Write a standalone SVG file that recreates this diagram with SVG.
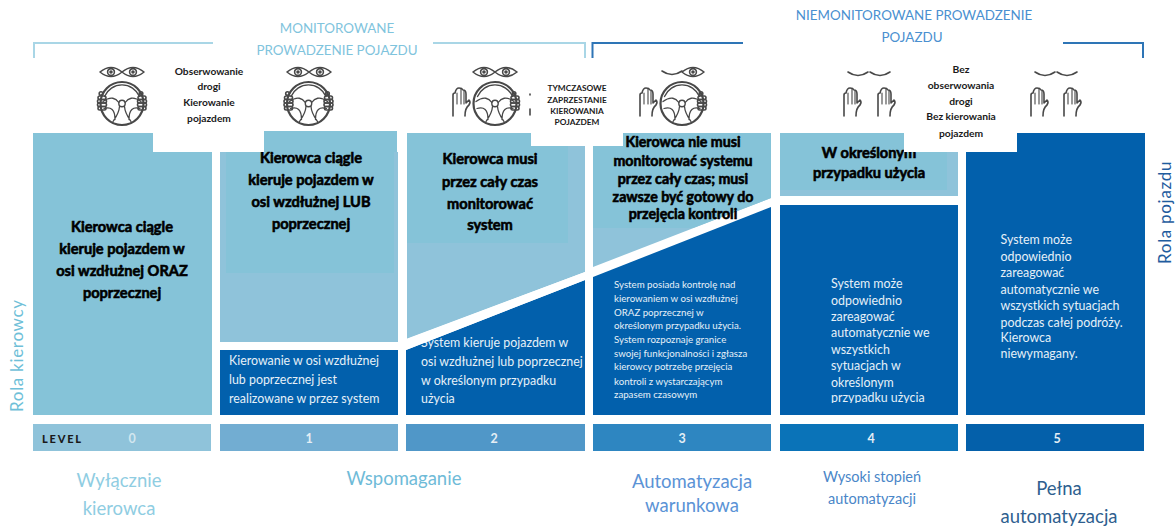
<svg xmlns="http://www.w3.org/2000/svg" xmlns:xlink="http://www.w3.org/1999/xlink" width="1175" height="527" viewBox="0 0 1175 527">
<style>
text{font-family:Lato,"Open Sans","Liberation Sans",sans-serif}
.m{text-anchor:middle}
.hd{font-size:13.400px}
.b{font-weight:700;font-size:14.600px;fill:#000;stroke:#000;stroke-width:.6px;text-anchor:middle}
.s{font-weight:700;fill:#1a1a1a;text-anchor:middle}
.w{fill:#e6f0f8;font-size:12.400px}
.w3{fill:#e6f0f8;font-size:9.700px}
.n{font-weight:700;font-size:12.500px;fill:#e4eef5;text-anchor:middle}
.lb{font-size:18.500px;text-anchor:middle}
.ic{fill:none;stroke:#484848;stroke-width:1.600;stroke-linecap:round;stroke-linejoin:round}
.br{fill:none;stroke-width:2}
.lt{fill:#8fc3da}.dk{fill:#85c3d8}.bl{fill:#0260ac}
</style>
<defs>
<g id="wheel" class="ic">
<circle r="21.500" stroke-width="2.200"/>
<path d="M-17.500,-7A19 19 0 0 1 17.500,-7" stroke-width="1.400"/>
<path d="M-19,-2C-11,-8 -6,-5 -3.200,-1M19,-2C11,-8 6,-5 3.200,-1M-2.500,3C-3,10 -7,15 -9,18M2.500,3C3,10 7,15 9,18M-18,5C-11,3 -7,6 -7,16M18,5C11,3 7,6 7,16" stroke-width="1.300"/>
<circle r="3.200" stroke-width="1.400"/>
</g>
<g id="grip" class="ic" stroke-width="1.300"><rect x="-4" y="-7" width="8" height="3.500" rx="1.700"/><rect x="-4.500" y="-3.500" width="9" height="3.500" rx="1.700"/><rect x="-4.500" y="0" width="9" height="3.500" rx="1.700"/><rect x="-4" y="3.500" width="8" height="3.500" rx="1.700"/><circle cx="-1" cy="-9.500" r="1.800"/></g>
<g id="eye" class="ic" stroke-width="1.700"><path d="M-11,0Q0,-9 11,0Q0,9 -11,0Z"/><circle r="3.400"/><circle r="1" fill="#484848"/></g>
<path id="closed" class="ic" stroke-width="1.800" d="M-10,-2Q0,5 10,-2"/>
<g id="hand" class="ic" stroke-width="1.500"><path d="M-8,14V-7Q-8,-9 -6,-9Q-5,-14 -2,-14Q1,-14 2,-12Q5,-12 5,-8V1L8,-2Q10,0 8,3Q4,6 4,14"/><path d="M-4,-9V2M0,-13V2M3,-11V2" stroke-width="1.100"/></g>
</defs>

<g id="brackets">
<path class="br" stroke="#a9d6e6" d="M34,58V43H213M433,43H585V58"/>
<path class="br" stroke="#2e75b6" d="M592.500,58V43H743M1063,43H1143V58"/>
</g>
<g id="header-monitored"><text class="m hd" fill="#7fc4dd" x="337" y="33">MONITOROWANE</text><text class="m hd" fill="#7fc4dd" x="337" y="55">PROWADZENIE POJAZDU</text></g>
<g id="header-unmonitored"><text class="m hd" fill="#4a90d0" x="914" y="20">NIEMONITOROWANE PROWADZENIE</text><text class="m hd" fill="#4a90d0" x="912" y="42">POJAZDU</text></g>

<g id="icon-0"><use href="#eye" x="111" y="72"/><use href="#eye" x="133" y="72"/><use href="#wheel" x="122" y="103.500"/><use href="#grip" x="102" y="103"/><use href="#grip" x="142" y="103"/></g>
<g id="icon-1"><use href="#eye" x="298" y="72"/><use href="#eye" x="320" y="72"/><use href="#wheel" x="308.500" y="103.500"/><use href="#grip" x="288.500" y="103"/><use href="#grip" x="328.500" y="103"/></g>
<g id="icon-2"><use href="#eye" x="484" y="72"/><use href="#eye" x="506" y="72"/><use href="#hand" x="461" y="102"/><use href="#wheel" x="495" y="103.500"/><use href="#grip" x="515" y="103"/><path class="ic" d="M530,94v1M530,109v6" stroke-width="1"/></g>
<g id="icon-3"><use href="#closed" x="672" y="73"/><use href="#eye" x="693" y="72"/><use href="#hand" x="648" y="102"/><use href="#wheel" x="682" y="103.500"/><use href="#grip" x="702" y="103"/></g>
<g id="icon-4"><use href="#closed" x="858" y="74"/><use href="#closed" x="880" y="74"/><use href="#hand" x="852" y="102"/><use href="#hand" x="886" y="102"/></g>
<g id="icon-5"><use href="#closed" x="1045" y="74"/><use href="#closed" x="1067" y="74"/><use href="#hand" x="1039" y="102"/><use href="#hand" x="1072" y="102"/></g>

<g id="column-0"><rect class="dk" x="33" y="133" width="179" height="282"/>
<text class="b" x="122"><tspan x="122" y="232">Kierowca ciągle</tspan><tspan x="122" y="254">kieruje pojazdem w</tspan><tspan x="122" y="276">osi wzdłużnej ORAZ</tspan><tspan x="122" y="298">poprzecznej</tspan></text></g>

<g id="column-1"><rect class="lt" x="220" y="152" width="178" height="190"/><rect class="dk" x="226" y="152" width="168" height="121"/><rect class="dk" x="264" y="131" width="133" height="21"/>
<text class="b" x="311"><tspan x="311" y="163">Kierowca ciągle</tspan><tspan x="311" y="185">kieruje pojazdem w</tspan><tspan x="311" y="207">osi wzdłużnej LUB</tspan><tspan x="311" y="229">poprzecznej</tspan></text>
<rect class="bl" x="220" y="350" width="178" height="65"/>
<text class="w" x="229"><tspan x="229" y="365">Kierowanie w osi wzdłużnej</tspan><tspan x="229" y="384">lub poprzecznej jest</tspan><tspan x="229" y="403">realizowane w przez system</tspan></text></g>

<g id="column-2"><path class="lt" d="M407,146H585V272L407,339Z"/><rect class="dk" x="407" y="133" width="161" height="110"/>
<text class="b" x="490"><tspan x="490" y="164">Kierowca musi</tspan><tspan x="490" y="187">przez cały czas</tspan><tspan x="490" y="209">monitorować</tspan><tspan x="490" y="230">system</tspan></text>
<path class="bl" d="M406,350L585,280V415H406Z"/>
<text class="w" x="421"><tspan x="421" y="347">System kieruje pojazdem w</tspan><tspan x="421" y="366">osi wzdłużnej lub poprzecznej</tspan><tspan x="421" y="385">w określonym przypadku</tspan><tspan x="421" y="403">użycia</tspan></text>
<path fill="#fff" d="M406,339L585,272V280L406,350Z"/></g>

<g id="column-3"><path class="lt" d="M593,146H771V198L593,267Z"/><path class="dk" d="M593,146H623V133H771V198L693,228H593Z"/>
<text class="b" style="font-size:14.200px" x="683"><tspan x="683" y="147">Kierowca nie musi</tspan><tspan x="683" y="166">monitorować systemu</tspan><tspan x="683" y="184">przez cały czas; musi</tspan><tspan x="683" y="202">zawsze być gotowy do</tspan><tspan x="683" y="219">przejęcia kontroli</tspan></text>
<path class="bl" d="M593,277L771,207V415H593Z"/>
<text class="w3" x="614"><tspan x="614" y="288">System posiada kontrolę nad</tspan><tspan x="614" y="302">kierowaniem w osi wzdłużnej</tspan><tspan x="614" y="316">ORAZ poprzecznej w</tspan><tspan x="614" y="329">określonym przypadku użycia.</tspan><tspan x="614" y="343">System rozpoznaje granice</tspan><tspan x="614" y="357">swojej funkcjonalności i zgłasza</tspan><tspan x="614" y="370">kierowcy potrzebę przejęcia</tspan><tspan x="614" y="385">kontroli z wystarczającym</tspan><tspan x="614" y="398">zapasem czasowym</tspan></text></g>

<g id="column-4"><rect class="lt" x="780" y="133" width="178" height="63"/><rect class="dk" x="780" y="133" width="167" height="57"/>
<text class="b" x="869"><tspan x="869" y="158">W określonym</tspan><tspan x="869" y="178">przypadku użycia</tspan></text>
<rect class="bl" x="780" y="205" width="178" height="210"/>
<text class="w" x="831"><tspan x="831" y="288">System może</tspan><tspan x="831" y="305">odpowiednio</tspan><tspan x="831" y="321">zareagować</tspan><tspan x="831" y="337">automatycznie we</tspan><tspan x="831" y="354">wszystkich</tspan><tspan x="831" y="370">sytuacjach w</tspan><tspan x="831" y="387">określonym</tspan><tspan x="831" y="402">przypadku użycia</tspan></text>
<rect class="bl" x="825" y="403" width="110" height="5"/></g>

<g id="column-5"><rect class="bl" x="966" y="133" width="179" height="282"/>
<text class="w" x="1000.500"><tspan x="1000.500" y="244">System może</tspan><tspan x="1000.500" y="261">odpowiednio</tspan><tspan x="1000.500" y="277">zareagować</tspan><tspan x="1000.500" y="294">automatycznie we</tspan><tspan x="1000.500" y="310">wszystkich sytuacjach</tspan><tspan x="1000.500" y="327">podczas całej podróży.</tspan><tspan x="1000.500" y="342">Kierowca</tspan><tspan x="1000.500" y="358">niewymagany.</tspan></text></g>

<g id="cut-outs" fill="#fff"><rect x="153" y="128" width="111" height="24"/><rect x="531" y="128" width="92" height="18"/><rect x="904" y="128" width="113" height="24"/></g>

<g id="note-left"><text class="s" style="font-size:10.200px" x="209"><tspan x="209" y="75">Obserwowanie</tspan><tspan x="209" y="90">drogi</tspan><tspan x="209" y="106">Kierowanie</tspan><tspan x="209" y="122">pojazdem</tspan></text></g>
<g id="note-mid"><text class="s" style="font-size:8.300px" x="577"><tspan x="577" y="91">TYMCZASOWE</tspan><tspan x="577" y="103">ZAPRZESTANIE</tspan><tspan x="577" y="113.500">KIEROWANIA</tspan><tspan x="577" y="125">POJAZDEM</tspan></text></g>
<g id="note-right"><text class="s" style="font-size:10.300px" x="961"><tspan x="961" y="73">Bez</tspan><tspan x="961" y="89">obserwowania</tspan><tspan x="961" y="105">drogi</tspan><tspan x="961" y="120">Bez kierowania</tspan><tspan x="961" y="137">pojazdem</tspan></text></g>

<g id="level-bar">
<rect x="33" y="424" width="178" height="27" fill="#8fc3da"/><rect x="220" y="424" width="178" height="27" fill="#72add2"/><rect x="406" y="424" width="179" height="27" fill="#5097c8"/><rect x="593" y="424" width="178" height="27" fill="#2e86c1"/><rect x="780" y="424" width="178" height="27" fill="#0a73b8"/><rect x="966" y="424" width="178" height="27" fill="#0460aa"/>
<text x="42" y="443" font-size="11" font-weight="900" letter-spacing="1.800" fill="#1a1a1a">LEVEL</text>
<text class="n" x="132" y="443" style="fill:#d2e6ef">0</text><text class="n" x="309" y="443">1</text><text class="n" x="494" y="443">2</text><text class="n" x="682" y="443">3</text><text class="n" x="871" y="443">4</text><text class="n" x="1057" y="443">5</text>
</g>

<g id="labels">
<text class="lb" fill="#8fcde2" x="119"><tspan x="119" y="487">Wyłącznie</tspan><tspan x="119" y="515">kierowca</tspan></text>
<text class="lb" fill="#6fbbd8" x="404" y="485">Wspomaganie</text>
<text class="lb" fill="#5b93d6" x="692"><tspan x="692" y="488">Automatyzacja</tspan><tspan x="692" y="512">warunkowa</tspan></text>
<text class="lb" style="font-size:14.500px" fill="#4a86c8" x="872"><tspan x="872" y="482">Wysoki stopień</tspan><tspan x="872" y="504">automatyzacji</tspan></text>
<text class="lb" fill="#2f5f8f" x="1059"><tspan x="1059" y="495">Pełna</tspan><tspan x="1059" y="523">automatyzacja</tspan></text>
<text transform="translate(23,412) rotate(-90)" font-size="17" letter-spacing=".7" fill="#6fbfd8">Rola kierowcy</text>
<text transform="translate(1171,264) rotate(-90)" font-size="17" letter-spacing=".7" fill="#1f5c9e">Rola pojazdu</text>
</g>
</svg>
